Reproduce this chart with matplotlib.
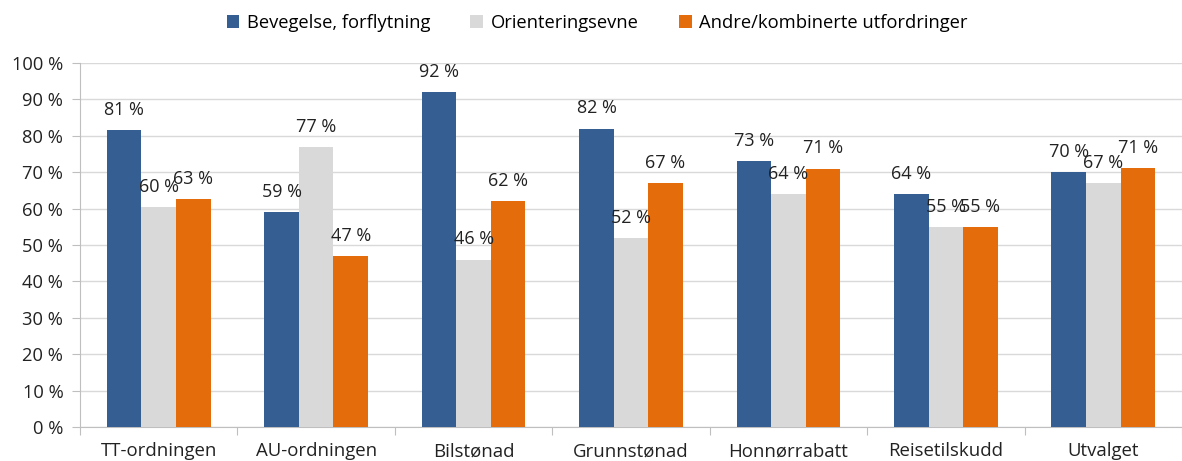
import matplotlib
matplotlib.use("Agg")
import matplotlib.pyplot as plt
import numpy as np

categories = ["TT-ordningen", "AU-ordningen", "Bilstønad", "Grunnstønad",
              "Honnørrabatt", "Reisetilskudd", "Utvalget"]
series_names = ["Bevegelse, forflytning", "Orienteringsevne",
                "Andre/kombinerte utfordringer"]
bevegelse = [81.5, 59, 92, 82, 73, 64, 70]
orientering = [60.5, 77, 46, 52, 64, 55, 67]
andre = [62.5, 47, 62, 67, 71, 55, 71.2]
labels_bev = ["81 %", "59 %", "92 %", "82 %", "73 %", "64 %", "70 %"]
labels_ori = ["60 %", "77 %", "46 %", "52 %", "64 %", "55 %", "67 %"]
labels_and = ["63 %", "47 %", "62 %", "67 %", "71 %", "55 %", "71 %"]
yticks = [0, 10, 20, 30, 40, 50, 60, 70, 80, 90, 100]

colors = ["#355E92", "#D9D9D9", "#E46C0A"]
plt.rcParams['font.family'] = ['Open Sans', 'DejaVu Sans']

W, H = 1182, 461
fig = plt.figure(figsize=(W / 100, H / 100), dpi=100)
left, right = 80, 1182
bottom, top = 427, 63
ax = fig.add_axes([left / W, 1 - bottom / H, (right - left) / W, (bottom - top) / H])

group_px = 159.5
x = np.arange(len(categories))
bw = 35 / group_px
data = [bevegelse, orientering, andre]
labs = [labels_bev, labels_ori, labels_and]
handles = []
for i, (vals, lb) in enumerate(zip(data, labs)):
    pos = x + (i - 1) * bw
    b = ax.bar(pos, vals, width=bw, color=colors[i], label=series_names[i], zorder=3)
    handles.append(b)
    for p, v, t in zip(pos, vals, lb):
        ax.annotate(t, (p, v), xytext=(0, 8), textcoords="offset points",
                    ha="center", va="bottom", fontsize=13, color="#222222", zorder=5)

ax.set_xlim(-0.5, (right - left) / group_px - 0.5)
ax.set_ylim(0, 100)
ax.set_yticks(yticks)
ax.set_yticklabels([f"{t} %" for t in yticks], fontsize=13.2, color="#222222")
ax.yaxis.grid(True, color="#D9D9D9", linewidth=1, zorder=0)
ax.set_axisbelow(True)
ax.tick_params(axis="y", length=6, color="#BFBFBF", pad=6)

ax.set_xticks(np.arange(len(categories) + 1) - 0.5, minor=False)
ax.set_xticklabels([])
ax.tick_params(axis="x", which="major", length=6, color="#BFBFBF")
ax.set_xticks(x, minor=True)
ax.set_xticklabels(categories, minor=True, fontsize=13.4, color="#222222")
ax.tick_params(axis="x", which="minor", length=0, pad=11)

for s in ["top", "right"]:
    ax.spines[s].set_visible(False)
ax.spines["left"].set_color("#BFBFBF")
ax.spines["bottom"].set_color("#BFBFBF")

fig.legend(handles=handles, labels=series_names, loc="center", ncol=3,
           bbox_to_anchor=(597 / W, 1 - 23 / H), frameon=False, fontsize=13.2,
           handlelength=0.7, handleheight=0.7, handletextpad=0.4, columnspacing=2.2)

fig.savefig("out.png", dpi=100)
